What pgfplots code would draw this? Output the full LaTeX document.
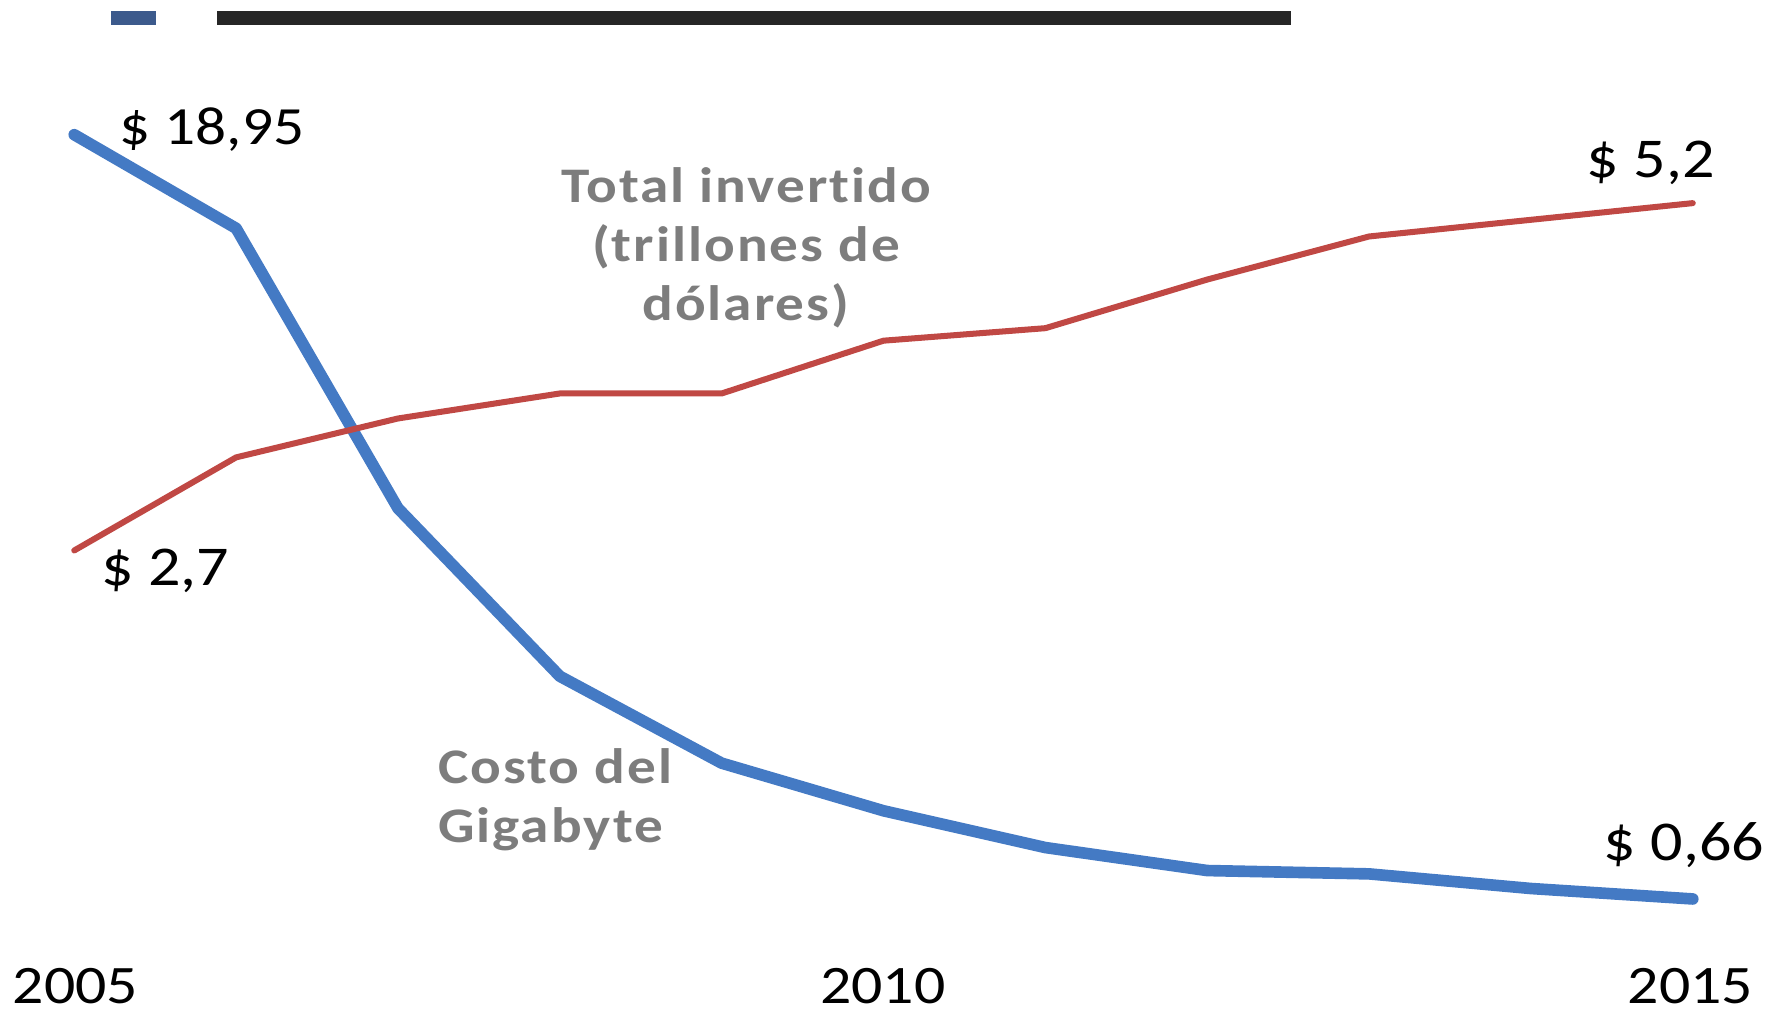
\documentclass[border=0pt]{standalone}
\usepackage{fontspec}
\setmainfont{Carlito}
\newfontfamily\widef[FakeStretch=1.14]{Carlito}
\newfontfamily\widebf[FakeStretch=1.15,LetterSpace=4,Ligatures={NoCommon},UprightFont=* Bold]{Carlito}
\usepackage{pgfplots}
\pgfplotsset{compat=1.18}
\definecolor{cblue}{RGB}{68,122,196}
\definecolor{cred}{RGB}{192,72,68}
\definecolor{cgray}{RGB}{125,125,125}
\definecolor{cnavy}{RGB}{60,90,140}
\begin{document}
\begin{tikzpicture}
\useasboundingbox (0,0) rectangle (15.68,8.85);
% top decoration bars
\fill[cnavy] (0.97,8.63) rectangle (1.37,8.75);
\fill[black!85] (1.90,8.63) rectangle (11.30,8.75);
% Costo del Gigabyte
\begin{axis}[
  at={(0.65cm,0.85cm)}, anchor=south west,
  scale only axis, width=14.17cm, height=7cm,
  xmin=2005, xmax=2015, ymin=0.305, ymax=19.44,
  hide axis, clip=false]
\addplot[cblue, line width=2.9pt, line cap=round, line join=round] coordinates {
(2005,18.95) (2006,16.71) (2007,10.01) (2008,5.99) (2009,3.91) (2010,2.77)
(2011,1.89) (2012,1.34) (2013,1.26) (2014,0.91) (2015,0.66)};
\end{axis}
% Total invertido
\begin{axis}[
  at={(0.65cm,0.85cm)}, anchor=south west,
  scale only axis, width=14.17cm, height=7cm,
  xmin=2005, xmax=2015, ymin=0.085, ymax=5.84,
  hide axis, clip=false]
\addplot[cred, line width=1.5pt, line cap=round, line join=round] coordinates {
(2005,2.7) (2006,3.37) (2007,3.65) (2008,3.83) (2009,3.83) (2010,4.21)
(2011,4.30) (2012,4.65) (2013,4.96) (2014,5.08) (2015,5.2)};
\end{axis}
% value labels
\node[anchor=west, font=\widef\fontsize{13.4}{16}\selectfont, inner sep=0pt] at (1.04,7.72) {\$ 18,95};
\node[anchor=west, font=\widef\fontsize{14}{16}\selectfont, inner sep=0pt] at (0.88,3.85) {\$ 2,7};
\node[anchor=east, font=\widef\fontsize{14}{16}\selectfont, inner sep=0pt] at (15.02,7.42) {\$ 5,2};
\node[anchor=east, font=\widef\fontsize{14}{16}\selectfont, inner sep=0pt] at (15.45,1.45) {\$ 0,66};
% series labels
\node[align=center, text=cgray, font=\widebf\fontsize{12.4}{14.8}\selectfont, inner sep=0pt] at (6.53,6.68) {Total invertido\\(trillones de\\dólares)};
\node[align=left, anchor=west, text=cgray, font=\widebf\fontsize{12.4}{14.8}\selectfont, inner sep=0pt] at (3.83,1.85) {Costo del\\Gigabyte};
% year labels
\node[font=\widef\fontsize{13.5}{16}\selectfont, inner sep=0pt] at (0.66,0.22) {2005};
\node[font=\widef\fontsize{13.5}{16}\selectfont, inner sep=0pt] at (7.73,0.22) {2010};
\node[font=\widef\fontsize{13.5}{16}\selectfont, inner sep=0pt] at (14.80,0.22) {2015};
\end{tikzpicture}
\end{document}
